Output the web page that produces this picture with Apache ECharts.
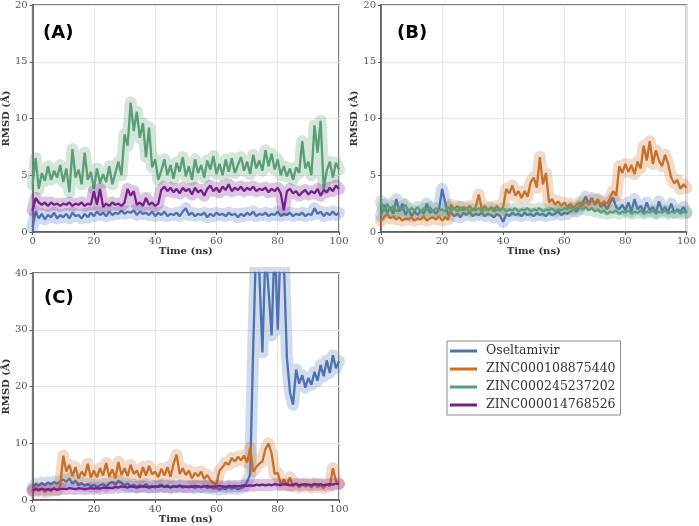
<html>
    <head>
        <meta charset="utf-8">
        <script src="https://cdn.jsdelivr.net/npm/echarts@6/dist/echarts.min.js"></script>
    </head>
    <body>
        <style>
            html, body, #main {
                width: 100%;
                height: 100%;
                margin: 0;
                background: #fff;
            }
        </style>
        <div id='main'></div>
        <script>
            // time in ns, one sample per ns
            var time = [];
            for (var t = 0; t <= 100; t++) time.push(t);

            var names = ['Oseltamivir', 'ZINC000108875440', 'ZINC000245237202', 'ZINC000014768526'];
            var colors = ['#4c72b0', '#c8702a', '#5a9e77', '#76208a'];

            // panel (A)
            var aOseltamivir = [
                0.4, 1.8, 1.2, 1.6, 1.1, 1.5, 1.3, 1.7, 1.2, 1.5,
                1.3, 1.6, 1.2, 1.7, 1.4, 1.5, 1.2, 1.6, 1.3, 1.7,
                1.4, 1.8, 1.5, 1.7, 1.4, 1.8, 1.5, 1.7, 1.6, 1.9,
                1.6, 1.8, 1.7, 1.9, 1.5, 1.8, 1.6, 1.7, 1.5, 1.8,
                1.4, 1.7, 1.5, 1.8, 1.4, 1.6, 1.5, 1.7, 1.4, 1.8,
                2.1, 1.5, 1.7, 1.4, 1.6, 1.5, 1.7, 1.3, 1.6, 1.4,
                1.7, 1.5, 1.6, 1.4, 1.7, 1.5, 1.6, 1.3, 1.6, 1.4,
                1.7, 1.5, 1.8, 1.4, 1.6, 1.5, 1.7, 1.4, 1.6, 1.5,
                1.8, 1.4, 1.6, 1.5, 1.7, 1.4, 1.6, 1.5, 1.7, 1.4,
                1.6, 1.5, 2.1, 1.6, 1.8, 1.4, 1.7, 1.5, 1.8, 1.5, 1.7
            ];
            var aZinc245 = [
                4.2, 6.5, 3.8, 5.2, 4.5, 5.8, 4.6, 5.4, 4.8, 5.9,
                4.4, 5.6, 3.5, 7.3, 4.8, 5.5, 4.2, 7.0, 4.6, 5.3,
                3.8, 5.6, 4.3, 5.1, 4.4, 5.8, 4.2, 5.2, 6.2, 5.0,
                8.6, 7.6, 11.4, 8.9, 10.6, 8.3, 9.6, 6.6, 9.2, 5.7,
                6.4, 4.6, 5.4, 6.4, 5.0, 5.9, 4.7, 6.1, 5.3, 6.6,
                4.9, 5.8, 4.6, 6.4, 5.2, 5.9, 4.8, 6.3, 5.5, 6.7,
                5.1, 6.0, 5.0, 6.4, 5.3, 6.5, 5.2, 5.9, 6.6, 5.4,
                6.2, 5.1, 6.8, 5.6, 6.3, 5.4, 7.2, 5.8, 6.9, 5.5,
                6.4, 5.0, 5.8, 4.9, 5.6, 4.6, 5.7, 5.2, 8.0, 5.6,
                6.2, 5.0, 9.4, 7.0, 9.8, 3.8, 5.4, 6.2, 4.8, 6.1, 5.5
            ];
            var aZinc014 = [
                1.9, 3.0, 2.6, 2.4, 2.6, 2.3, 2.6, 2.4, 2.5, 2.3,
                2.5, 2.4, 2.6, 2.3, 2.5, 2.4, 2.6, 2.3, 2.5, 2.4,
                3.6, 2.4, 3.8, 2.2, 2.5, 2.3, 2.6, 2.4, 2.5, 2.3,
                2.6, 3.8, 3.2, 3.6, 2.4, 2.6, 2.3, 3.0, 2.4, 2.6,
                2.3, 2.5, 3.7, 4.0, 3.6, 3.9, 3.5, 3.8, 3.4, 3.9,
                3.6, 3.8, 3.3, 3.9, 3.5, 3.7, 3.2, 3.8, 4.1, 3.6,
                3.9, 3.5, 4.0, 3.7, 4.2, 3.6, 3.9, 3.7, 4.0, 3.6,
                3.9, 3.7, 4.0, 3.6, 3.8, 3.7, 3.9, 3.5, 3.8, 3.6,
                3.9, 3.4, 1.9, 3.6, 3.8, 3.4, 3.6, 3.2, 3.5, 3.7,
                3.3, 3.6, 3.4, 3.8, 3.2, 3.7, 3.5, 3.9, 3.6, 4.1, 3.8
            ];

            // panel (B)
            var bOseltamivir = [
                1.4, 2.4, 1.7, 2.2, 1.6, 2.9, 1.8, 2.5, 1.5, 2.0,
                1.4, 1.8, 1.5, 1.9, 1.6, 2.5, 1.7, 1.9, 1.6, 2.0,
                3.8, 2.6, 1.5, 1.7, 1.4, 1.6, 1.3, 1.7, 1.5, 1.8,
                1.4, 1.6, 1.5, 1.7, 1.4, 1.6, 1.5, 1.3, 1.6, 1.4,
                0.9, 1.6, 1.4, 1.7, 1.5, 1.6, 1.4, 1.7, 1.5, 1.6,
                1.4, 1.7, 1.5, 1.6, 1.4, 1.7, 1.5, 1.6, 1.8, 1.5,
                1.7, 1.6, 1.8, 2.0, 1.8, 2.2, 2.6, 3.1, 2.5, 3.0,
                2.4, 2.8, 2.2, 2.5, 2.0, 2.6, 3.0, 2.2, 2.0, 2.4,
                1.9, 2.6, 1.8, 2.9, 2.0, 2.3, 1.8, 2.6, 1.9, 2.2,
                1.7, 2.7, 1.9, 2.2, 1.8, 2.5, 1.7, 2.0, 1.8, 2.2, 1.7
            ];
            var bZinc108 = [
                1.0, 1.3, 1.6, 1.2, 1.4, 1.1, 1.3, 1.0, 1.2, 1.1,
                1.3, 1.0, 1.2, 1.1, 1.4, 1.0, 1.2, 1.3, 1.1, 1.4,
                1.0, 1.3, 1.1, 2.4, 2.0, 2.3, 1.9, 2.2, 2.0, 2.3,
                1.9, 2.2, 3.3, 2.0, 2.3, 1.9, 2.2, 2.0, 2.3, 1.9,
                2.2, 3.8, 3.4, 4.1, 3.2, 3.6, 3.0, 3.6, 3.1, 4.4,
                4.8, 3.9, 6.6, 4.2, 5.2, 2.6, 2.9, 2.4, 2.7, 2.3,
                2.6, 2.2, 2.5, 2.1, 2.4, 2.6, 2.3, 2.7, 2.4, 2.8,
                2.5, 2.9, 2.4, 2.7, 2.5, 3.0, 3.6, 3.2, 5.8, 5.2,
                6.0, 5.3, 5.9, 5.1, 6.2, 5.6, 7.6, 6.3, 8.0, 6.0,
                7.2, 6.3, 5.8, 6.8, 6.0, 4.8, 4.3, 4.6, 3.8, 4.2, 3.9
            ];
            var bZinc245 = [
                2.7, 1.8, 2.5, 1.9, 2.3, 1.8, 2.2, 1.9, 2.4, 1.8,
                2.1, 1.9, 2.2, 1.8, 2.1, 1.9, 2.2, 1.8, 2.1, 1.9,
                2.0, 1.8, 2.2, 1.9, 2.1, 1.8, 2.2, 1.9, 2.1, 1.8,
                2.0, 1.9, 2.1, 1.8, 2.0, 1.9, 2.1, 1.8, 2.0, 1.9,
                2.1, 1.8, 2.0, 1.9, 2.1, 1.8, 2.0, 1.9, 2.1, 1.8,
                2.0, 1.9, 2.1, 1.8, 2.0, 1.9, 2.1, 1.8, 2.0, 1.9,
                2.1, 2.0, 2.2, 1.9, 2.1, 2.3, 2.0, 2.2, 1.9, 2.1,
                1.8, 2.0, 1.7, 1.9, 1.6, 1.8, 1.7, 1.9, 1.6, 1.8,
                1.7, 1.9, 1.6, 1.8, 1.7, 1.9, 1.6, 1.8, 1.7, 1.9,
                1.6, 1.8, 1.7, 1.9, 1.6, 1.8, 1.7, 1.9, 1.6, 1.8, 1.7
            ];

            // panel (C)
            var cOseltamivir = [
                2.2, 2.8, 2.5, 3.0, 2.6, 3.1, 2.8, 3.2, 2.9, 3.3,
                3.6, 3.2, 3.8, 2.9, 3.4, 2.6, 3.0, 2.5, 2.8, 2.4,
                2.7, 2.3, 2.6, 2.8, 2.4, 2.9, 3.2, 2.7, 3.4, 3.0,
                2.6, 2.9, 2.4, 2.7, 2.3, 2.6, 2.4, 2.8, 2.3, 2.5,
                2.2, 2.5, 2.7, 2.3, 2.6, 2.2, 2.5, 2.3, 2.6, 2.2,
                2.4, 2.2, 2.5, 2.1, 2.4, 2.2, 2.5, 2.1, 2.3, 2.0,
                2.2, 1.8, 2.1, 1.9, 2.3, 2.0, 2.2, 1.9, 2.1, 2.3,
                3.2, 4.5, 27, 46, 40, 26, 44, 37, 29, 46,
                30, 46, 42, 25, 19, 16.8, 23, 20.5, 22, 19.8,
                21.5, 20.3, 22.6, 21, 23.8, 21.8, 24.6, 22.4, 25.5, 23.2, 24.5
            ];
            var cZinc108 = [
                1.5, 2.2, 1.6, 2.0, 1.4, 1.9, 1.6, 2.1, 1.7, 2.4,
                7.8, 5.0, 6.2, 4.2, 5.8, 3.8, 5.0, 4.2, 6.4, 3.9,
                5.2, 4.0, 5.6, 4.3, 6.5, 4.1, 5.4, 3.8, 6.7, 4.4,
                5.6, 4.2, 6.2, 4.6, 5.2, 3.9, 5.8, 4.3, 6.0, 4.5,
                5.0, 4.0, 5.5, 4.3, 5.8, 4.1, 6.4, 8.0, 4.6, 5.6,
                4.4, 5.2, 3.8, 4.8, 4.2, 5.0, 3.7, 4.4, 3.5, 3.0,
                2.8, 5.2, 5.8, 6.6, 6.2, 7.4, 6.8, 7.6, 7.0, 7.8,
                6.6, 9.2, 5.0, 5.8, 6.4, 6.8, 9.0, 10.0, 8.2, 4.6,
                4.8, 2.8, 3.6, 2.6, 4.0, 2.4, 3.0, 2.2, 2.8, 2.4,
                2.7, 2.2, 2.9, 2.3, 2.6, 2.1, 2.8, 2.4, 5.6, 3.4, 2.9
            ];
            var cZinc014 = [
                1.7, 1.9, 1.8, 2.0, 1.8, 1.9, 1.8, 2.0, 1.8, 1.9,
                2.0, 1.9, 2.1, 2.0, 1.9, 2.1, 2.0, 1.9, 2.0, 2.1,
                2.0, 2.1, 2.0, 2.2, 2.1, 2.2, 2.1, 2.3, 2.2, 2.4,
                2.3, 2.2, 2.4, 2.3, 2.2, 2.3, 2.4, 2.3, 2.2, 2.3,
                2.4, 2.3, 2.5, 2.3, 2.4, 2.2, 2.4, 2.3, 2.5, 2.4,
                2.3, 2.4, 2.3, 2.5, 2.4, 2.3, 2.4, 2.5, 2.3, 2.4,
                2.4, 2.5, 2.4, 2.3, 2.5, 2.4, 2.5, 2.4, 2.5, 2.6,
                2.5, 2.6, 2.5, 2.7, 2.6, 2.7, 2.6, 2.7, 2.6, 2.8,
                2.7, 2.6, 2.8, 2.7, 2.6, 2.7, 2.8, 2.6, 2.7, 2.8,
                2.7, 2.6, 2.8, 2.7, 2.8, 2.6, 2.7, 2.8, 2.7, 2.9, 2.8
            ];

            var serif = 'DejaVu Serif';

            function toRgba(hex, a) {
                var r = parseInt(hex.slice(1, 3), 16),
                    g = parseInt(hex.slice(3, 5), 16),
                    b = parseInt(hex.slice(5, 7), 16);
                return 'rgba(' + r + ',' + g + ',' + b + ',' + a + ')';
            }

            // each trace = wide pale band underneath + line on top
            function trace(idx, gridIdx, values) {
                var data = time.map(function (t, i) { return [t, values[i]]; });
                return [{
                    name: names[idx] + ' band',
                    type: 'line',
                    xAxisIndex: gridIdx,
                    yAxisIndex: gridIdx,
                    data: data,
                    showSymbol: false,
                    silent: true,
                    lineStyle: { color: toRgba(colors[idx], 0.26), width: 12, join: 'round', cap: 'round' },
                    itemStyle: { color: colors[idx] }
                }, {
                    name: names[idx],
                    type: 'line',
                    xAxisIndex: gridIdx,
                    yAxisIndex: gridIdx,
                    data: data,
                    showSymbol: false,
                    lineStyle: { color: colors[idx], width: 2.3 },
                    itemStyle: { color: colors[idx] }
                }];
            }

            function xAxis(gridIdx) {
                return {
                    type: 'value', gridIndex: gridIdx, min: 0, max: 100, interval: 20,
                    name: 'Time (ns)', nameLocation: 'middle', nameGap: 13,
                    nameTextStyle: { fontFamily: serif, fontWeight: 'bold', fontSize: 10, color: '#333' },
                    axisLine: { lineStyle: { color: '#555', width: 1.5 } },
                    axisTick: { show: true, length: 3, lineStyle: { color: '#555' } },
                    axisLabel: { fontFamily: serif, fontSize: 10, color: '#555', margin: 4 },
                    splitLine: { show: true, lineStyle: { color: '#e6e6e6', width: 1 } }
                };
            }

            function yAxis(gridIdx, max, step) {
                return {
                    type: 'value', gridIndex: gridIdx, min: 0, max: max, interval: step,
                    name: 'RMSD (Å)', nameLocation: 'middle', nameGap: 19,
                    nameTextStyle: { fontFamily: serif, fontWeight: 'bold', fontSize: 10, color: '#333' },
                    axisLine: { show: true, lineStyle: { color: '#555', width: 1.5 } },
                    axisTick: { show: true, length: 3, lineStyle: { color: '#555' } },
                    axisLabel: { fontFamily: serif, fontSize: 10, color: '#555', margin: 5 },
                    splitLine: { show: true, lineStyle: { color: '#e6e6e6', width: 1 } }
                };
            }

            var panelFont = { fontFamily: 'DejaVu Sans', fontWeight: 'bold', fontSize: 18, color: '#000' };

            var chart = echarts.init(document.getElementById('main'));

            var option = {
                animation: false,
                backgroundColor: '#fff',
                title: [
                    { text: '(A)', left: 43, top: 24, padding: 0, textStyle: panelFont },
                    { text: '(B)', left: 397, top: 24, padding: 0, textStyle: panelFont },
                    { text: '(C)', left: 44, top: 289, padding: 0, textStyle: panelFont }
                ],
                grid: [
                    { left: 31, top: 5, width: 308, height: 227, show: true, borderColor: '#555', borderWidth: 1.5 },
                    { left: 381, top: 5, width: 308, height: 227, show: true, borderColor: '#555', borderWidth: 1.5 },
                    { left: 31, top: 273, width: 308, height: 227, show: true, borderColor: '#555', borderWidth: 1.5 }
                ],
                xAxis: [xAxis(0), xAxis(1), xAxis(2)],
                yAxis: [yAxis(0, 20, 5), yAxis(1, 20, 5), yAxis(2, 40, 10)],
                legend: {
                    data: names,
                    orient: 'vertical',
                    left: 447,
                    top: 341,
                    padding: [2, 5, 2, 3],
                    itemGap: 2,
                    itemWidth: 27,
                    itemHeight: 3,
                    icon: 'rect',
                    borderColor: '#888',
                    borderWidth: 1,
                    textStyle: { fontFamily: serif, fontSize: 12.5, color: '#333', lineHeight: 16, padding: [0, 0, 0, 4] }
                },
                series: [].concat(
                    trace(0, 0, aOseltamivir),
                    trace(2, 0, aZinc245),
                    trace(3, 0, aZinc014),
                    trace(0, 1, bOseltamivir),
                    trace(1, 1, bZinc108),
                    trace(2, 1, bZinc245),
                    trace(0, 2, cOseltamivir),
                    trace(1, 2, cZinc108),
                    trace(3, 2, cZinc014)
                )
            };

            chart.setOption(option);

            window.onresize = function () {
                chart.resize();
            }
        </script>
    </body>
</html>
